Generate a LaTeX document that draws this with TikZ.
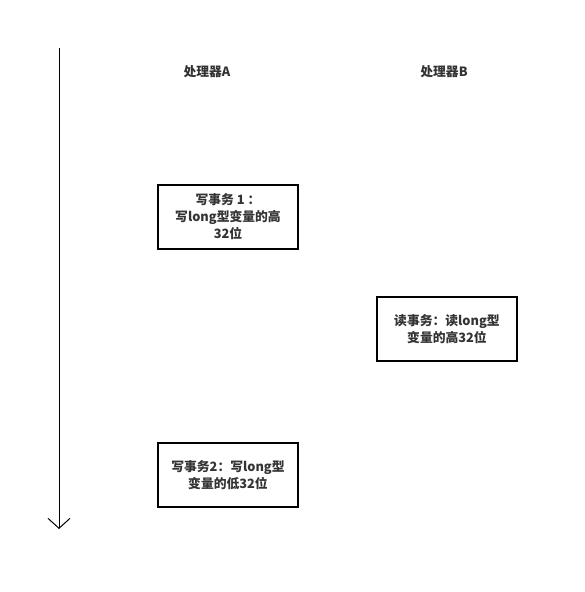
\documentclass[tikz,border=0pt]{standalone}
\usepackage{fontspec}
\setmainfont{Noto Sans CJK SC}
\usetikzlibrary{arrows.meta}
\definecolor{txt}{HTML}{333333}
\tikzset{
  box/.style={draw=black, line width=1.2pt, minimum width=140pt, minimum height=64pt, align=center, font=\bfseries\fontsize{12.8}{17}\selectfont, text=txt, inner sep=0pt},
  head/.style={font=\bfseries\fontsize{12.8}{14}\selectfont, text=txt, inner sep=0pt},
}
\begin{document}
\begin{tikzpicture}[x=1pt,y=-1pt]
\useasboundingbox (0,0) rectangle (585,592);
\coordinate (ts) at (59,48);
\coordinate (te) at (59,529);
\draw[line width=0.9pt, -{Straight Barb[length=10pt,width=22pt,line width=1pt]}] (ts) -- (te);
\node[head] (ha) at (207,72) {处理器A};
\node[head] (hb) at (444,72) {处理器B};
\node[box] (a1) at (228,217) {写事务 1 ：\\写long型变量的高\\32位};
\node[box] (b1) at (447,329) {读事务：读long型\\变量的高32位};
\node[box] (a2) at (228,475) {写事务2：写long型\\变量的低32位};
\end{tikzpicture}
\end{document}
